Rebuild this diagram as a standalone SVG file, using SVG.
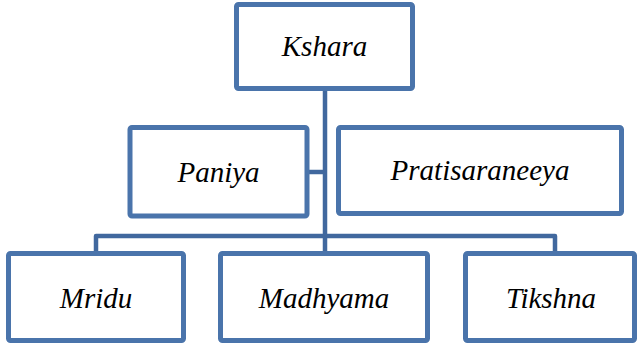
<svg xmlns="http://www.w3.org/2000/svg" width="639" height="346" viewBox="0 0 639 346">
<style>
.box{fill:#ffffff;stroke:#4A74AB;stroke-width:5;}
.lbl{font-family:"Liberation Serif","Times New Roman",serif;font-style:italic;font-size:29px;fill:#000000;text-anchor:middle;}
.con{fill:none;stroke:#41689E;stroke-width:4.5;stroke-linejoin:round;}
</style>
<rect x="0" y="0" width="639" height="346" fill="#ffffff"/>
<g id="connectors">
<path class="con" d="M325 88 V253"/>
<path class="con" d="M307 172 H325"/>
<path class="con" d="M96 253 V236 H555 V253"/>
</g>
<g id="kshara"><rect class="box" x="236.5" y="4.5" width="176" height="84" rx="2"/><text class="lbl" x="324.5" y="56">Kshara</text></g>
<g id="paniya"><rect class="box" x="130" y="127.5" width="177" height="88.5" rx="2"/><text class="lbl" x="218.5" y="182">Paniya</text></g>
<g id="pratisaraneeya"><rect class="box" x="338.5" y="127.5" width="283" height="86" rx="2"/><text class="lbl" x="480" y="180">Pratisaraneeya</text></g>
<g id="mridu"><rect class="box" x="8.5" y="253.5" width="175" height="87" rx="2"/><text class="lbl" x="96" y="308">Mridu</text></g>
<g id="madhyama"><rect class="box" x="220.5" y="253.5" width="207" height="87" rx="2"/><text class="lbl" x="324" y="308">Madhyama</text></g>
<g id="tikshna"><rect class="box" x="465.5" y="253.5" width="169" height="87" rx="2"/><text class="lbl" x="551" y="308">Tikshna</text></g>
</svg>
